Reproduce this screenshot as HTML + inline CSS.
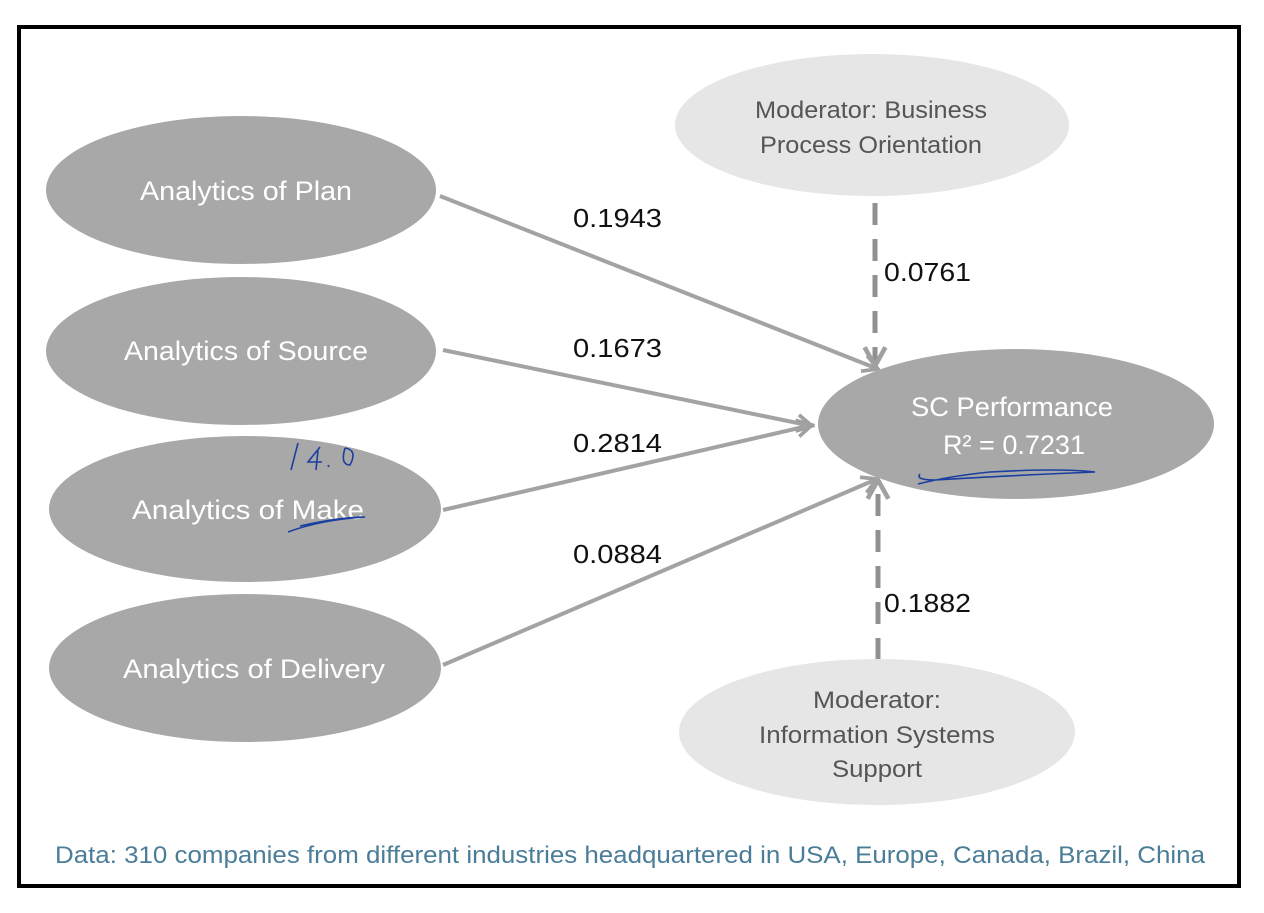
<!DOCTYPE html>
<html><head><meta charset="utf-8">
<style>
html,body{margin:0;padding:0;background:#fff;}
svg{display:block;}
text{font-family:"Liberation Sans",sans-serif;}
</style></head>
<body>
<svg width="1264" height="913" viewBox="0 0 1264 913">
<defs>
<marker id="ah" viewBox="0 0 12 12" refX="10" refY="6" markerWidth="5" markerHeight="5" orient="auto" markerUnits="strokeWidth">
<path d="M1,1 L10,6 L1,11" fill="none" stroke="#a0a0a0" stroke-width="2.2"/>
</marker>
</defs>
<rect x="19" y="27" width="1220" height="859" fill="#fff" stroke="#000" stroke-width="4"/>

<g stroke="#a3a3a3" stroke-width="4" fill="none">
<line x1="440" y1="196" x2="878" y2="369" marker-end="url(#ah)"/>
<line x1="443" y1="350" x2="812" y2="426" marker-end="url(#ah)"/>
<line x1="443" y1="510" x2="812" y2="425" marker-end="url(#ah)"/>
<line x1="443" y1="665" x2="877" y2="479" marker-end="url(#ah)"/>
<line x1="875" y1="203" x2="875" y2="366" stroke-dasharray="22,14" stroke-width="5" marker-end="url(#ah)" stroke="#909090"/>
<line x1="878" y1="660" x2="878" y2="480" stroke-dasharray="22,14" stroke-width="5" marker-end="url(#ah)" stroke="#909090"/>
</g>

<g fill="#a8a8a8">
<ellipse cx="241" cy="190" rx="195" ry="74"/>
<ellipse cx="241" cy="351" rx="195" ry="74"/>
<ellipse cx="245" cy="509" rx="196" ry="73"/>
<ellipse cx="245" cy="668" rx="196" ry="74"/>
<ellipse cx="1016" cy="424" rx="198" ry="75"/>
</g>
<ellipse cx="872" cy="125" rx="197" ry="71" fill="#e6e6e6"/>
<ellipse cx="877" cy="732" rx="198" ry="73" fill="#e6e6e6"/>

<g fill="#fff" font-size="27" text-anchor="middle">
<text x="246" y="200" textLength="212" lengthAdjust="spacingAndGlyphs">Analytics of Plan</text>
<text x="246" y="360" textLength="244" lengthAdjust="spacingAndGlyphs">Analytics of Source</text>
<text x="248" y="519" textLength="232" lengthAdjust="spacingAndGlyphs">Analytics of Make</text>
<text x="254" y="678" textLength="262" lengthAdjust="spacingAndGlyphs">Analytics of Delivery</text>
<text x="1012" y="416" textLength="202" lengthAdjust="spacingAndGlyphs">SC Performance</text>
<text x="1014" y="454" textLength="142" lengthAdjust="spacingAndGlyphs">R² = 0.7231</text>
</g>
<g fill="#555" font-size="24" text-anchor="middle">
<text x="871" y="118" textLength="232" lengthAdjust="spacingAndGlyphs">Moderator: Business</text>
<text x="871" y="153" textLength="222" lengthAdjust="spacingAndGlyphs">Process Orientation</text>
<text x="877" y="708" textLength="128" lengthAdjust="spacingAndGlyphs">Moderator:</text>
<text x="877" y="743" textLength="236" lengthAdjust="spacingAndGlyphs">Information Systems</text>
<text x="877" y="777" textLength="90" lengthAdjust="spacingAndGlyphs">Support</text>
</g>

<g fill="#111" font-size="26">
<text x="573" y="227" textLength="89" lengthAdjust="spacingAndGlyphs">0.1943</text>
<text x="573" y="357" textLength="89" lengthAdjust="spacingAndGlyphs">0.1673</text>
<text x="573" y="452" textLength="89" lengthAdjust="spacingAndGlyphs">0.2814</text>
<text x="573" y="563" textLength="89" lengthAdjust="spacingAndGlyphs">0.0884</text>
<text x="884" y="281" textLength="87" lengthAdjust="spacingAndGlyphs">0.0761</text>
<text x="884" y="612" textLength="87" lengthAdjust="spacingAndGlyphs">0.1882</text>
</g>

<g stroke="#1a3fa0" stroke-width="1.6" fill="none">
<path d="M920,474 Q915,480 935,480 Q1000,476 1095,472 Q1060,468 990,472 Q950,476 918,484"/>
<path d="M288,532 Q320,520 365,517 Q340,517 300,526"/>
<path d="M298,443 L291,470 M320,447 L308,462 L322,462 M318,450 L316,470 M328,465 L329,467 M345,448 Q340,465 350,465 Q358,450 345,448"/>
</g>

<text x="630" y="863" fill="#4a7d98" font-size="24" text-anchor="middle" textLength="1150" lengthAdjust="spacingAndGlyphs">Data: 310 companies from different industries headquartered in USA, Europe, Canada, Brazil, China</text>
</svg>
</body></html>
